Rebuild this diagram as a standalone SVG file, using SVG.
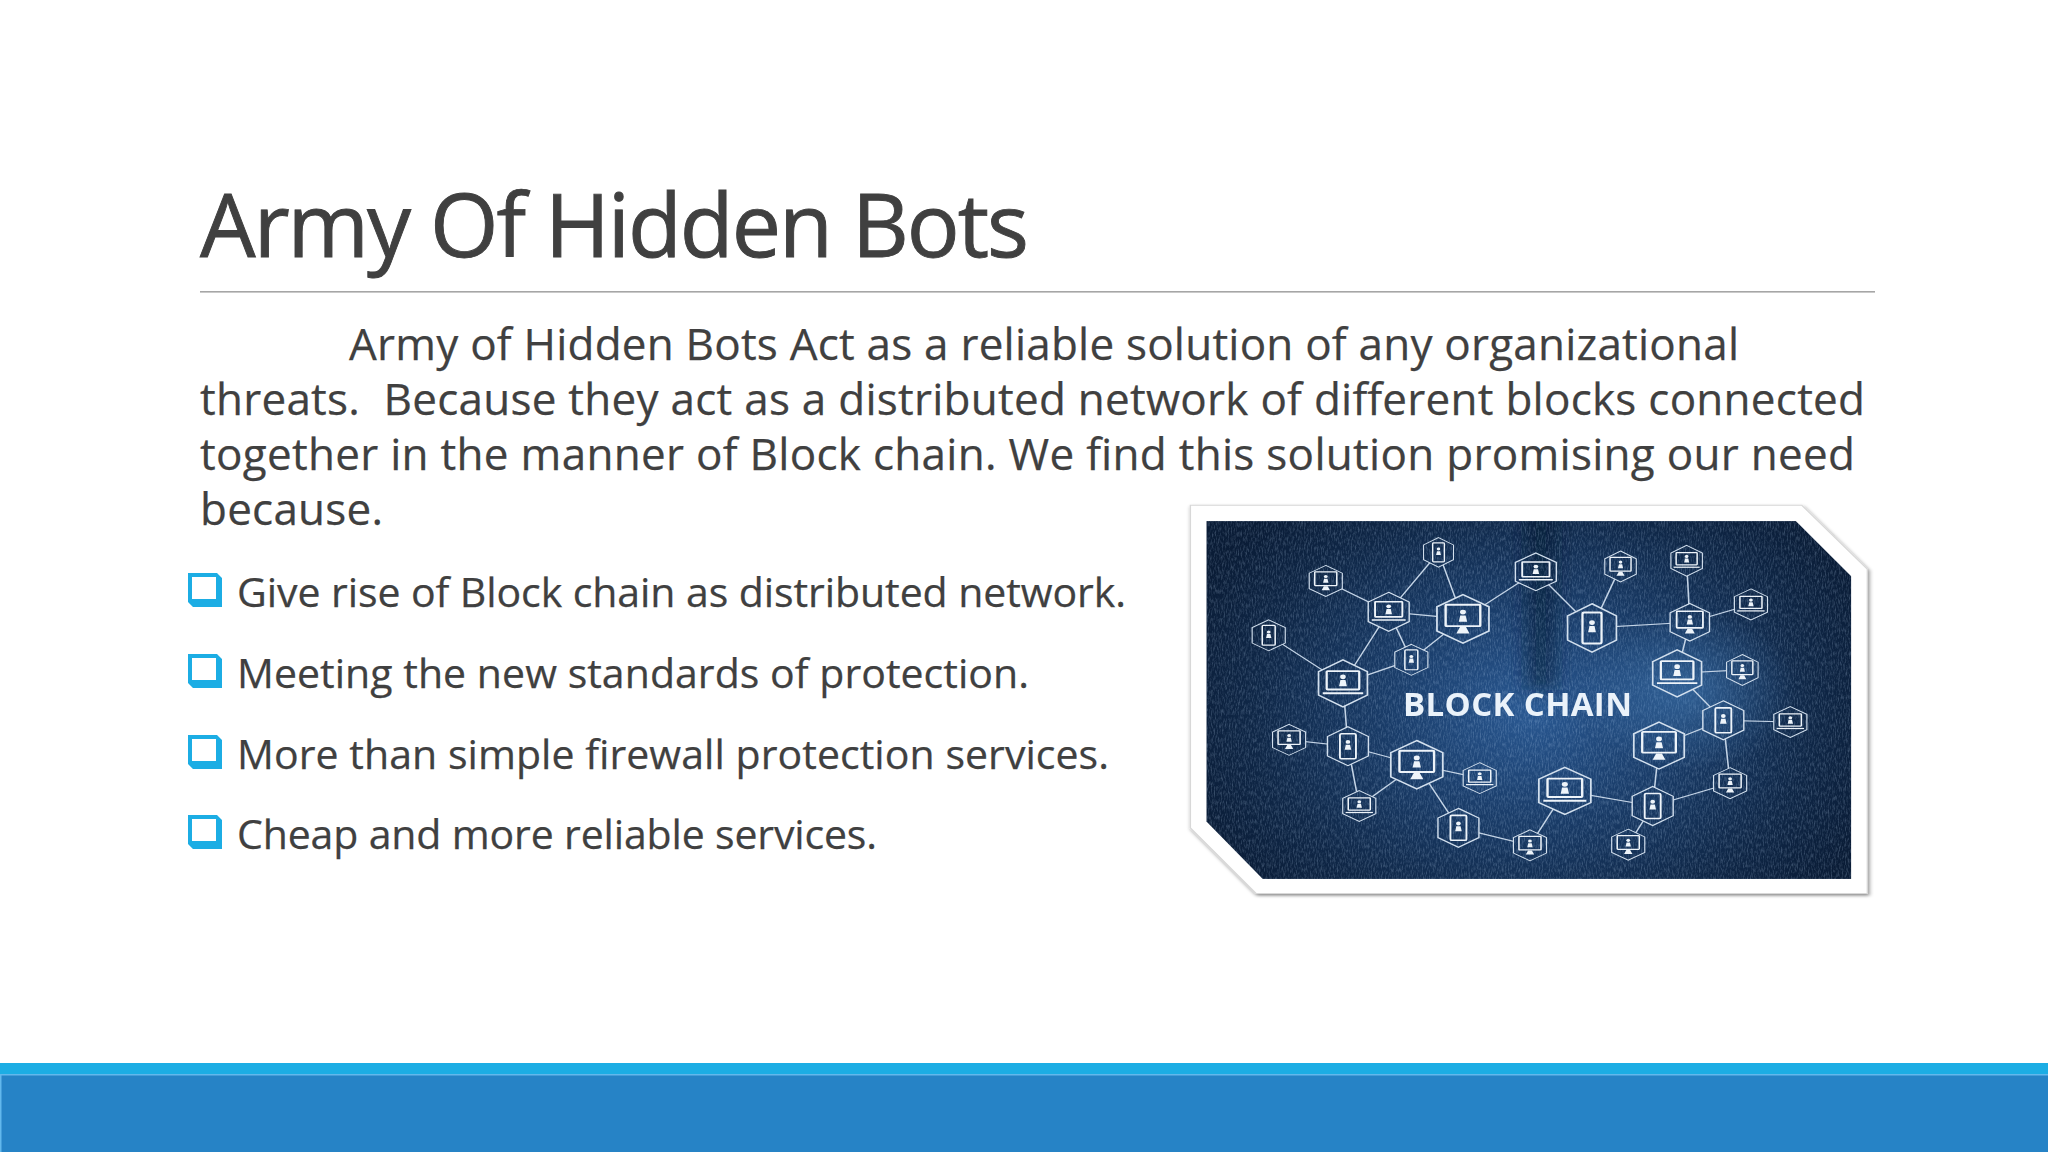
<svg xmlns="http://www.w3.org/2000/svg" width="2048" height="1152" viewBox="0 0 2048 1152">
<style>
text{white-space:pre}
.title{font-family:"Open Sans","Liberation Sans",sans-serif;font-size:88px;fill:#404040;stroke:#404040;stroke-width:.9}
.body{font-family:"Open Sans","Liberation Sans",sans-serif;font-size:44px;fill:#404040;stroke:#404040;stroke-width:.25}
.bul{font-family:"Open Sans","Liberation Sans",sans-serif;font-size:41px;fill:#404040;stroke:#404040;stroke-width:.25}
.cap{font-family:"Open Sans","Liberation Sans",sans-serif;font-size:33px;font-weight:700;fill:#eaf2fa}
.h{fill:none;stroke:#d3e0ee;stroke-width:6}
.i{fill:none;stroke:#eef4fa;stroke-width:8}
.d{fill:#eef4fa}
.e{fill:none;stroke:#c4d4e6;stroke-width:3.4}
</style>
<defs>
<radialGradient id="bg" gradientUnits="userSpaceOnUse" cx="800" cy="660" r="820">
<stop offset="0" stop-color="#2a5993"/><stop offset=".35" stop-color="#1b3f6d"/><stop offset=".75" stop-color="#0f2747"/><stop offset="1" stop-color="#0a1c36"/>
</radialGradient>
<radialGradient id="glow" gradientUnits="userSpaceOnUse" cx="1140" cy="600" r="240">
<stop offset="0" stop-color="#4d8ccc" stop-opacity=".45"/><stop offset="1" stop-color="#4d8ccc" stop-opacity="0"/>
</radialGradient>
<filter id="noise" x="0" y="0" width="100%" height="100%">
<feTurbulence type="fractalNoise" baseFrequency="0.32 0.07" numOctaves="3" seed="9"/>
<feColorMatrix values="0 0 0 0 .6 0 0 0 0 .78 0 0 0 0 1 2.4 0 0 0 -1"/>
</filter>
<filter id="soft" x="-5%" y="-5%" width="110%" height="110%"><feGaussianBlur stdDeviation="0.7"/></filter>
<filter id="softer" x="-5%" y="-5%" width="110%" height="110%"><feGaussianBlur stdDeviation="0.4"/></filter>
<filter id="wide" x="-60%" y="-20%" width="220%" height="140%"><feGaussianBlur stdDeviation="24"/></filter>
<filter id="shadow" x="-5%" y="-5%" width="110%" height="110%"><feDropShadow dx="3" dy="5" stdDeviation="5" flood-color="#000" flood-opacity=".45"/></filter>
<clipPath id="pic"><polygon points="80,97 1382,97 1505,262 1505,1162 205,1162 80,990"/></clipPath>
<polygon id="hex" class="h" points="0,-100 87,-50 87,50 0,100 -87,50 -87,-50"/>
<polygon id="hexm" fill="#000" points="0,-100 87,-50 87,50 0,100 -87,50 -87,-50"/>
<g id="dude"><circle class="d" cx="0" cy="-22" r="10"/><path class="d" d="M-14,18 L-9,-8 H9 L14,18 Z"/></g>
<g id="n-lap"><use href="#hex"/><rect class="i" x="-58" y="-52" width="116" height="78" rx="3"/><path class="i" d="M-72,42 H72"/><use href="#dude" transform="translate(0,-6)"/></g>
<g id="n-mon"><use href="#hex"/><rect class="i" x="-58" y="-58" width="116" height="88" rx="3"/><path class="d" d="M-22,60 L-10,34 H10 L22,60 Z"/><use href="#dude" transform="translate(0,-6)"/></g>
<g id="n-pho"><use href="#hex"/><rect class="i" x="-34" y="-64" width="68" height="128" rx="6"/><use href="#dude"/></g>
<mask id="edgemask" maskUnits="userSpaceOnUse" x="0" y="0" width="1600" height="1300">
<rect width="1600" height="1300" fill="#fff"/>
<use href="#hexm" transform="translate(593,190) scale(.38,.44)"/>
<use href="#hexm" transform="translate(344,275) scale(.42,.46)"/>
<use href="#hexm" transform="translate(218,437) scale(.42,.46)"/>
<use href="#hexm" transform="translate(995,232) scale(.40,.46)"/>
<use href="#hexm" transform="translate(1141,215) scale(.40,.46)"/>
<use href="#hexm" transform="translate(1283,345) scale(.42,.46)"/>
<use href="#hexm" transform="translate(1264,540) scale(.40,.46)"/>
<use href="#hexm" transform="translate(1370,695) scale(.42,.46)"/>
<use href="#hexm" transform="translate(1237,877) scale(.42,.46)"/>
<use href="#hexm" transform="translate(1012,1060) scale(.42,.46)"/>
<use href="#hexm" transform="translate(795,1062) scale(.42,.46)"/>
<use href="#hexm" transform="translate(684,862) scale(.42,.46)"/>
<use href="#hexm" transform="translate(418,945) scale(.42,.46)"/>
<use href="#hexm" transform="translate(263,748) scale(.42,.46)"/>
<use href="#hexm" transform="translate(533,510) scale(.42,.46)"/>
<use href="#hexm" transform="translate(483,367) scale(.52,.58)"/>
<use href="#hexm" transform="translate(808,248) scale(.52,.56)"/>
<use href="#hexm" transform="translate(1148,398) scale(.50,.56)"/>
<use href="#hexm" transform="translate(1066,945) scale(.52,.58)"/>
<use href="#hexm" transform="translate(1222,690) scale(.52,.58)"/>
<use href="#hexm" transform="translate(393,767) scale(.52,.58)"/>
<use href="#hexm" transform="translate(637,1010) scale(.52,.58)"/>
<use href="#hexm" transform="translate(647,388) scale(.66,.72)"/>
<use href="#hexm" transform="translate(932,415) scale(.62,.72)"/>
<use href="#hexm" transform="translate(382,580) scale(.62,.70)"/>
<use href="#hexm" transform="translate(1120,550) scale(.62,.70)"/>
<use href="#hexm" transform="translate(1080,765) scale(.64,.70)"/>
<use href="#hexm" transform="translate(545,822) scale(.66,.72)"/>
<use href="#hexm" transform="translate(872,900) scale(.66,.70)"/>
</mask>
</defs>
<rect width="2048" height="1152" fill="#fff"/>
<text class="title" x="200" y="257" textLength="829">Army Of Hidden Bots</text>
<rect x="200" y="291" width="1675" height="1.6" fill="#a6a6a6"/>
<g id="paragraph">
<text class="body" x="349" y="360" textLength="1390">Army of Hidden Bots Act as a reliable solution of any organizational</text>
<text class="body" x="200" y="415" textLength="1665">threats.  Because they act as a distributed network of different blocks connected</text>
<text class="body" x="200" y="470" textLength="1655">together in the manner of Block chain. We find this solution promising our need</text>
<text class="body" x="200" y="525" textLength="183">because.</text>
</g>
<g id="bullets">
<g fill="#1cade4">
<path fill-rule="evenodd" d="M188,573 H217 L222,578 V607 H193 L188,602 Z M192,577 V599 H216 V577 Z"/>
<path fill-rule="evenodd" d="M188,654 H217 L222,659 V688 H193 L188,683 Z M192,658 V680 H216 V658 Z"/>
<path fill-rule="evenodd" d="M188,735 H217 L222,740 V769 H193 L188,764 Z M192,739 V761 H216 V739 Z"/>
<path fill-rule="evenodd" d="M188,815 H217 L222,820 V849 H193 L188,844 Z M192,819 V841 H216 V819 Z"/>
</g>
<text class="bul" x="237" y="607" textLength="889">Give rise of Block chain as distributed network.</text>
<text class="bul" x="237" y="688" textLength="792">Meeting the new standards of protection.</text>
<text class="bul" x="237" y="769" textLength="872">More than simple firewall protection services.</text>
<text class="bul" x="237" y="849" textLength="640">Cheap and more reliable services.</text>
</g>
<g id="picture">
<g transform="translate(1170,488.5) scale(.4528,.336)">
<polygon points="45,50 1395,50 1540,240 1540,1205 190,1205 45,1010" fill="#fff" stroke="#d8d8d8" stroke-width="3" filter="url(#shadow)"/>
<g clip-path="url(#pic)">
<rect x="80" y="97" width="1425" height="1065" fill="url(#bg)"/>
<rect x="790" y="60" width="60" height="540" fill="#06142a" opacity=".55" filter="url(#wide)"/>
<rect x="80" y="97" width="1425" height="1065" filter="url(#noise)" opacity=".22"/>
<rect x="80" y="97" width="1425" height="1065" fill="url(#glow)"/>
<g filter="url(#softer)">
<g mask="url(#edgemask)">
<path class="e" d="M344,275L483,367M593,190L483,367M593,190L647,388M483,367L647,388M647,388L808,248M808,248L932,415M932,415L995,232M932,415L1148,398M1141,215L1148,398M1283,345L1148,398M1148,398L1120,550M1120,550L1264,540M1120,550L1222,690M1222,690L1370,695M1222,690L1080,765M1222,690L1237,877M1237,877L1066,945M1080,765L1066,945M872,900L1066,945M1066,945L1012,1060M872,900L795,1062M795,1062L637,1010M637,1010L545,822M545,822L684,862M545,822L418,945M545,822L393,767M393,767L418,945M393,767L263,748M393,767L382,580M382,580L218,437M382,580L483,367M382,580L533,510M533,510L483,367M533,510L647,388"/>
</g>
<use href="#n-pho" transform="translate(593,190) scale(.38,.44)"/>
<use href="#n-mon" transform="translate(344,275) scale(.42,.46)"/>
<use href="#n-pho" transform="translate(218,437) scale(.42,.46)"/>
<use href="#n-mon" transform="translate(995,232) scale(.40,.46)"/>
<use href="#n-lap" transform="translate(1141,215) scale(.40,.46)"/>
<use href="#n-lap" transform="translate(1283,345) scale(.42,.46)"/>
<use href="#n-mon" transform="translate(1264,540) scale(.40,.46)"/>
<use href="#n-lap" transform="translate(1370,695) scale(.42,.46)"/>
<use href="#n-mon" transform="translate(1237,877) scale(.42,.46)"/>
<use href="#n-mon" transform="translate(1012,1060) scale(.42,.46)"/>
<use href="#n-mon" transform="translate(795,1062) scale(.42,.46)"/>
<use href="#n-lap" transform="translate(684,862) scale(.42,.46)"/>
<use href="#n-lap" transform="translate(418,945) scale(.42,.46)"/>
<use href="#n-mon" transform="translate(263,748) scale(.42,.46)"/>
<use href="#n-pho" transform="translate(533,510) scale(.42,.46)"/>
<use href="#n-lap" transform="translate(483,367) scale(.52,.58)"/>
<use href="#n-lap" transform="translate(808,248) scale(.52,.56)"/>
<use href="#n-mon" transform="translate(1148,398) scale(.50,.56)"/>
<use href="#n-pho" transform="translate(1066,945) scale(.52,.58)"/>
<use href="#n-pho" transform="translate(1222,690) scale(.52,.58)"/>
<use href="#n-pho" transform="translate(393,767) scale(.52,.58)"/>
<use href="#n-pho" transform="translate(637,1010) scale(.52,.58)"/>
<use href="#n-mon" transform="translate(647,388) scale(.66,.72)"/>
<use href="#n-pho" transform="translate(932,415) scale(.62,.72)"/>
<use href="#n-lap" transform="translate(382,580) scale(.62,.70)"/>
<use href="#n-lap" transform="translate(1120,550) scale(.62,.70)"/>
<use href="#n-mon" transform="translate(1080,765) scale(.64,.70)"/>
<use href="#n-mon" transform="translate(545,822) scale(.66,.72)"/>
<use href="#n-lap" transform="translate(872,900) scale(.66,.70)"/>
</g>
</g>
</g>
<text class="cap" x="1403" y="716" textLength="229" filter="url(#softer)">BLOCK CHAIN</text>
</g>
<g id="footer">
<rect x="0" y="1063" width="2048" height="89" fill="#1cade4"/>
<rect x="0" y="1074" width="2048" height="78" fill="#2683c6"/>
<rect x="0" y="1074" width="2048" height="1.5" fill="#62b8ec"/>
<rect x="0" y="1074" width="1.5" height="78" fill="#62b8ec"/>
</g>
</svg>
